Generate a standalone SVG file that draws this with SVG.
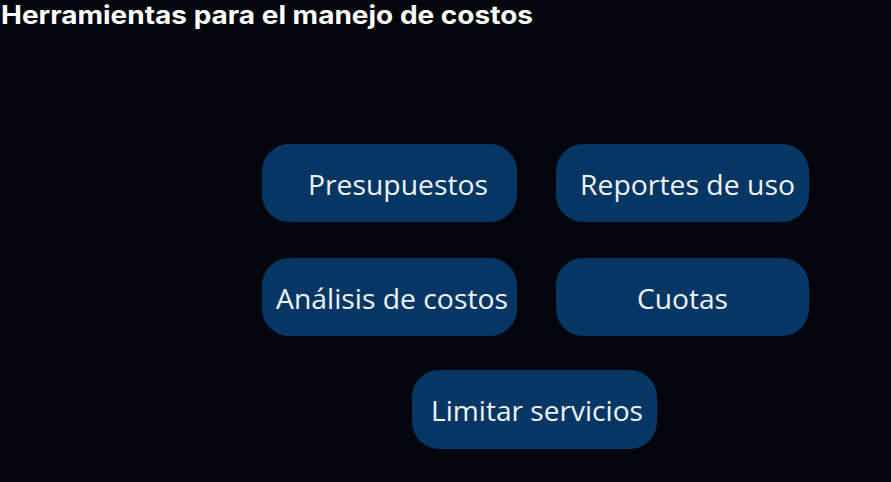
<svg xmlns="http://www.w3.org/2000/svg" width="891" height="482" viewBox="0 0 891 482">
<style>
.bg{fill:#03070d}
.title{font-family:Inter,"Liberation Sans",sans-serif;font-weight:700;font-size:25px;fill:#ffffff}
.box{fill:#063663}
.lbl{font-family:"Open Sans","Noto Sans",sans-serif;font-size:28px;fill:#eef3f8}
</style>
<rect class="bg" x="0" y="0" width="891" height="482"/>
<text class="title" x="1" y="24" textLength="532" lengthAdjust="spacingAndGlyphs">Herramientas para el manejo de costos</text>
<g id="connectors"></g>
<g id="n1"><rect class="box" x="262" y="144" width="255" height="78" rx="27"/><text class="lbl" x="308" y="195" textLength="180" lengthAdjust="spacingAndGlyphs">Presupuestos</text></g>
<g id="n2"><rect class="box" x="556" y="144" width="253" height="78" rx="27"/><text class="lbl" x="580" y="195" textLength="215" lengthAdjust="spacingAndGlyphs">Reportes de uso</text></g>
<g id="n3"><rect class="box" x="262" y="258" width="255" height="78" rx="27"/><text class="lbl" x="276" y="309" textLength="232" lengthAdjust="spacingAndGlyphs">Análisis de costos</text></g>
<g id="n4"><rect class="box" x="556" y="258" width="253" height="78" rx="27"/><text class="lbl" x="637" y="309" textLength="91" lengthAdjust="spacingAndGlyphs">Cuotas</text></g>
<g id="n5"><rect class="box" x="412" y="370" width="245" height="79" rx="27"/><text class="lbl" x="431" y="421" textLength="212" lengthAdjust="spacingAndGlyphs">Limitar servicios</text></g>
</svg>
